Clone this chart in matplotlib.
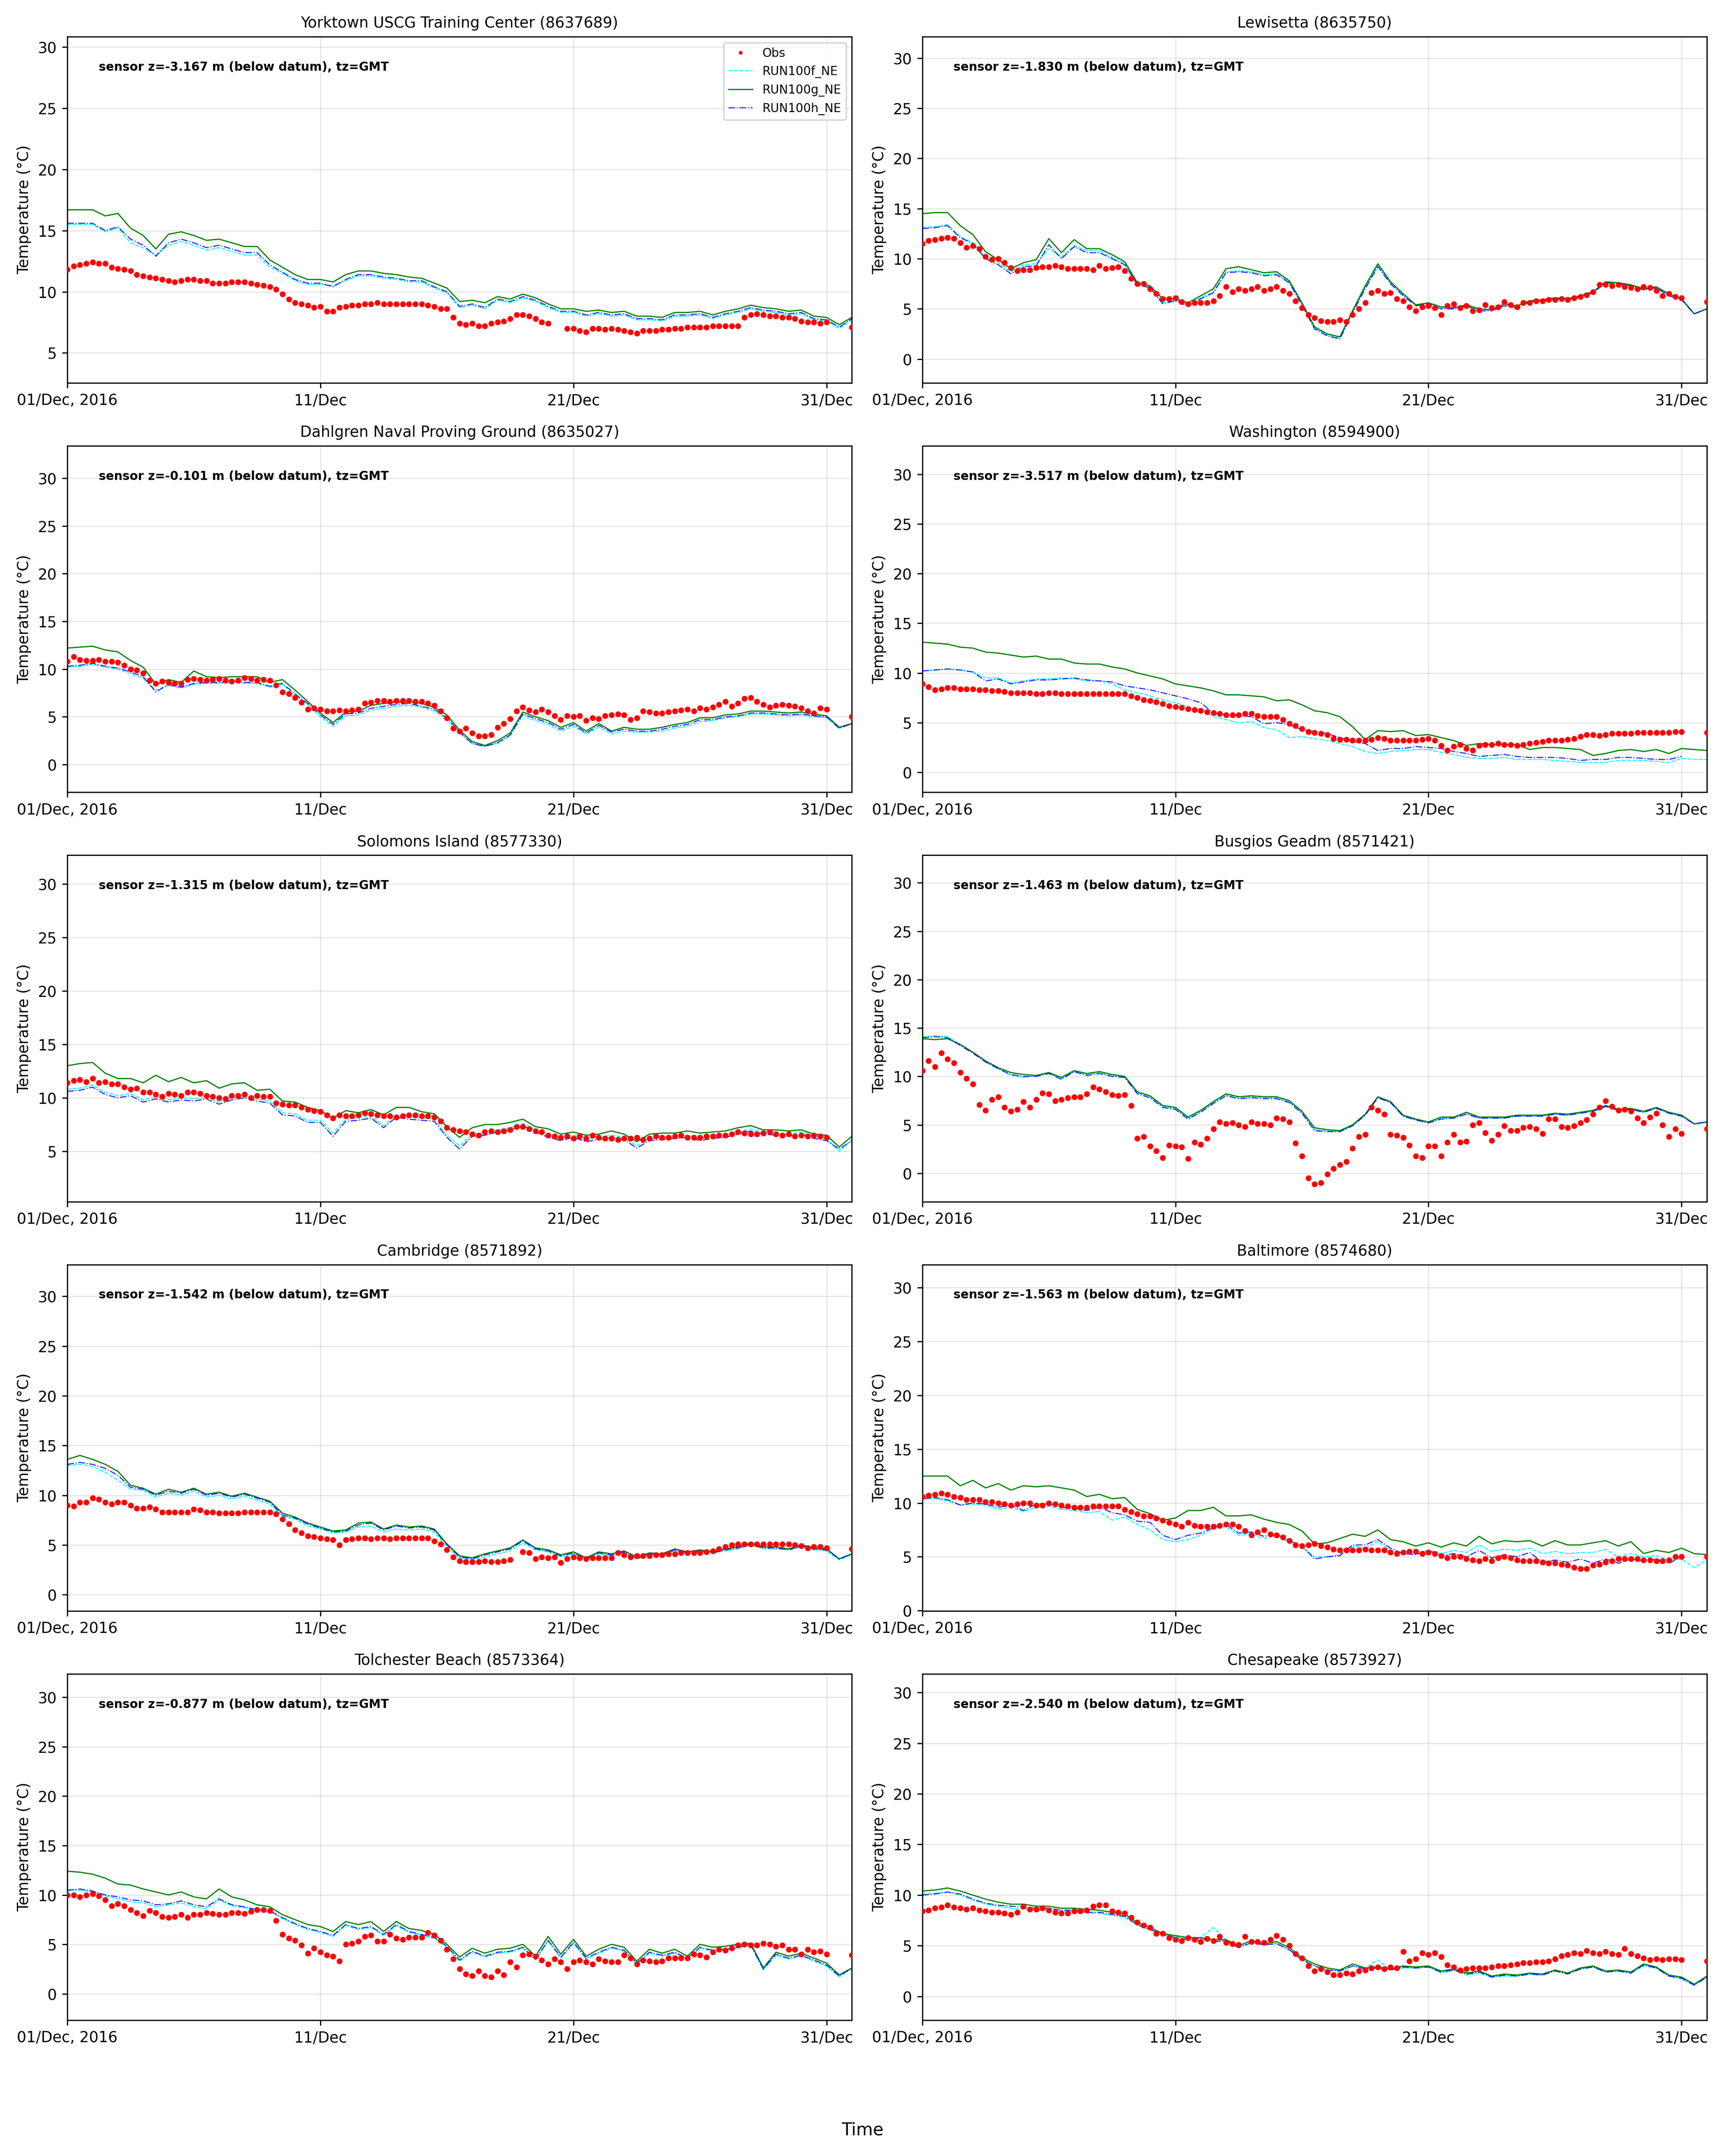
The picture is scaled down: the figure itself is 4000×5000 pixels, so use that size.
import numpy as np
import pandas as pd
import matplotlib
import matplotlib.pyplot as plt
from matplotlib.ticker import MultipleLocator

matplotlib.use('Agg')

nan = np.nan

# station info
stations = ['Yorktown USCG Training Center (8637689)', 'Lewisetta (8635750)',
            'Dahlgren Naval Proving Ground (8635027)', 'Washington (8594900)',
            'Solomons Island (8577330)', 'Busgios Geadm (8571421)',
            'Cambridge (8571892)', 'Baltimore (8574680)',
            'Tolchester Beach (8573364)', 'Chesapeake (8573927)']
sensor_z = [-3.167, -1.830, -0.101, -3.517, -1.315, -1.463, -1.542, -1.563, -0.877, -2.540]
y_limits = [(2.54, 30.86), (-2.39, 32.15), (-2.9, 33.37), (-2.0, 32.84), (0.3, 32.67),
            (-2.92, 32.84), (-1.63, 33.19), (-0.02, 32.14), (-2.68, 32.38), (-2.35, 31.84)]
run_names = ['RUN100f_NE', 'RUN100g_NE', 'RUN100h_NE']

# time axes: obs every 6 h, model every 12 h
t_obs = pd.date_range('2016-12-01 00:00', '2017-01-01 00:00', freq='6h')
t_mod = pd.date_range('2016-12-01 00:00', '2017-01-01 00:00', freq='12h')
tick_dates = pd.to_datetime(['2016-12-01', '2016-12-11', '2016-12-21', '2016-12-31'])
tick_labels = ['01/Dec, 2016', '11/Dec', '21/Dec', '31/Dec']

# ---------------- Yorktown ----------------
obs_yk = [11.8, 12.1, 12.2, 12.3, 12.4, 12.3, 12.3, 12.0,
          11.9, 11.8, 11.7, 11.4, 11.3, 11.2, 11.1, 11.0,
          10.9, 10.8, 10.9, 11.0, 11.0, 10.9, 10.9, 10.7,
          10.7, 10.7, 10.8, 10.8, 10.8, 10.7, 10.6, 10.5,
          10.4, 10.2, 9.8, 9.4, 9.1, 9.0, 8.9, 8.7,
          8.8, 8.4, 8.4, 8.7, 8.8, 8.9, 8.9, 9.0,
          9.0, 9.1, 9.0, 9.0, 9.0, 9.0, 9.0, 9.0,
          9.0, 8.9, 8.8, 8.6, 8.6, 7.9, 7.4, 7.3,
          7.4, 7.2, 7.2, 7.4, 7.5, 7.6, 7.8, 8.1,
          8.1, 8.0, 7.8, 7.5, 7.4, nan, nan, 7.0,
          7.0, 6.8, 6.7, 7.0, 7.0, 6.9, 7.0, 6.9,
          6.8, 6.7, 6.6, 6.8, 6.8, 6.8, 6.9, 6.9,
          7.0, 7.0, 7.1, 7.1, 7.1, 7.1, 7.2, 7.2,
          7.2, 7.2, 7.2, 7.9, 8.1, 8.2, 8.1, 8.0,
          8.0, 7.9, 7.9, 7.8, 7.6, 7.5, 7.5, 7.4,
          7.5, nan, nan, nan, 7.1]
f_yk = [15.5, 15.5, 15.5, 14.9, 15.2, 14.0, 13.6, 13.0, 13.8, 14.1,
        13.8, 13.4, 13.6, 13.3, 13.0, 13.0, 12.0, 11.5, 10.9, 10.6,
        10.6, 10.5, 10.9, 11.3, 11.3, 11.1, 11.0, 10.8, 10.8, 10.3,
        9.9, 8.7, 8.9, 8.6, 9.3, 9.1, 9.5, 9.2, 8.7, 8.3,
        8.3, 8.0, 8.2, 8.0, 8.1, 7.7, 7.7, 7.6, 8.0, 8.0,
        8.1, 7.8, 8.1, 8.3, 8.6, 8.4, 8.3, 8.1, 8.2, 7.7,
        7.6, 7.0, 7.7]
g_yk = [16.7, 16.7, 16.7, 16.2, 16.4, 15.2, 14.6, 13.5, 14.7, 14.9,
        14.6, 14.2, 14.3, 14.0, 13.7, 13.7, 12.6, 12.0, 11.4, 11.0,
        11.0, 10.8, 11.4, 11.7, 11.7, 11.5, 11.4, 11.2, 11.1, 10.7,
        10.3, 9.2, 9.3, 9.1, 9.6, 9.4, 9.8, 9.5, 9.0, 8.6,
        8.6, 8.4, 8.5, 8.3, 8.4, 8.0, 8.0, 7.9, 8.3, 8.3,
        8.4, 8.1, 8.4, 8.6, 8.9, 8.7, 8.6, 8.4, 8.5, 8.0,
        7.9, 7.3, 7.9]
h_yk = [15.6, 15.6, 15.6, 15.0, 15.3, 14.3, 13.8, 12.9, 14.0, 14.3,
        14.0, 13.6, 13.8, 13.5, 13.2, 13.2, 12.2, 11.6, 11.0, 10.7,
        10.7, 10.4, 11.0, 11.4, 11.4, 11.2, 11.1, 10.9, 10.9, 10.4,
        10.0, 8.8, 9.0, 8.7, 9.4, 9.2, 9.6, 9.3, 8.8, 8.4,
        8.4, 8.1, 8.3, 8.1, 8.2, 7.8, 7.8, 7.7, 8.1, 8.1,
        8.2, 7.9, 8.2, 8.4, 8.7, 8.5, 8.4, 8.2, 8.3, 7.8,
        7.7, 7.1, 7.8]

# ---------------- Lewisetta ----------------
obs_lw = [11.5, 11.8, 11.9, 12.0, 12.1, 12.0, 11.6, 11.1,
          11.3, 11.0, 10.2, 9.9, 10.0, 9.6, 9.1, 8.8,
          8.9, 8.9, 9.1, 9.2, 9.2, 9.3, 9.2, 9.0,
          9.0, 9.0, 9.0, 8.9, 9.3, 9.0, 9.1, 9.2,
          8.8, 8.0, 7.5, 7.5, 7.0, 6.5, 6.0, 6.0,
          6.1, 5.7, 5.5, 5.6, 5.6, 5.6, 5.8, 6.3,
          7.2, 6.7, 7.0, 6.8, 7.0, 7.2, 6.8, 7.0,
          7.2, 6.8, 6.5, 5.8, 5.1, 4.4, 4.1, 3.8,
          3.7, 3.7, 3.9, 3.7, 4.4, 5.0, 5.6, 6.6,
          6.8, 6.5, 6.6, 6.0, 5.8, 5.2, 4.8, 5.2,
          5.3, 5.1, 4.4, 5.3, 5.5, 5.1, 5.3, 4.8,
          4.9, 5.4, 5.1, 5.2, 5.7, 5.4, 5.2, 5.6,
          5.6, 5.8, 5.8, 5.9, 5.9, 6.0, 5.9, 6.1,
          6.2, 6.4, 6.7, 7.4, 7.4, 7.3, 7.4, 7.2,
          7.1, 7.0, 7.2, 7.1, 6.8, 6.3, 6.5, 6.2,
          6.1, nan, nan, nan, 5.7]
f_lw = [13.1, 13.2, 13.4, 12.2, 11.6, 10.2, 9.6, 8.7, 9.4, 9.5,
        11.0, 10.2, 11.3, 10.8, 10.8, 10.1, 9.5, 7.5, 7.2, 5.6,
        5.9, 5.4, 6.1, 6.7, 8.7, 8.8, 8.7, 8.4, 8.5, 7.7,
        5.5, 3.1, 2.4, 2.1, 4.7, 7.1, 9.3, 7.6, 6.4, 5.4,
        5.6, 5.1, 5.1, 5.4, 4.9, 4.9, 5.4, 5.2, 5.8, 5.9,
        6.1, 6.0, 6.3, 6.7, 7.6, 7.5, 7.3, 6.9, 7.1, 6.4,
        5.9, 4.5, 5.0]
g_lw = [14.5, 14.6, 14.6, 13.3, 12.4, 10.7, 9.9, 9.0, 9.6, 9.9,
        12.0, 10.6, 11.9, 11.0, 11.0, 10.4, 9.7, 7.6, 7.3, 6.0,
        6.0, 5.6, 6.3, 7.0, 9.0, 9.2, 8.9, 8.6, 8.7, 7.8,
        5.6, 3.2, 2.5, 2.2, 4.8, 7.3, 9.5, 7.7, 6.5, 5.4,
        5.6, 5.2, 5.1, 5.4, 5.0, 4.9, 5.5, 5.3, 5.8, 5.9,
        6.1, 6.0, 6.3, 6.7, 7.7, 7.6, 7.4, 7.0, 7.2, 6.5,
        6.0, 4.5, 5.0]
h_lw = [13.0, 13.1, 13.3, 12.1, 11.5, 10.0, 9.4, 8.5, 9.2, 9.3,
        11.4, 10.0, 11.2, 10.6, 10.6, 10.0, 9.4, 7.4, 7.1, 5.5,
        5.8, 5.3, 6.0, 6.6, 8.6, 8.7, 8.6, 8.3, 8.4, 7.6,
        5.4, 3.0, 2.3, 2.0, 4.6, 7.0, 9.2, 7.5, 6.3, 5.3,
        5.5, 5.0, 5.0, 5.3, 4.8, 4.8, 5.3, 5.1, 5.7, 5.8,
        6.0, 5.9, 6.2, 6.6, 7.6, 7.5, 7.3, 6.9, 7.1, 6.3,
        5.9, 4.5, 5.0]

# ---------------- Dahlgren ----------------
obs_dg = [10.8, 11.3, 11.0, 10.9, 10.9, 11.0, 10.8, 10.8,
          10.7, 10.4, 10.0, 9.9, 9.6, 8.8, 8.5, 8.7,
          8.6, 8.5, 8.5, 8.9, 9.0, 8.9, 8.8, 8.9,
          9.0, 8.8, 8.7, 8.8, 9.1, 9.0, 8.8, 8.9,
          8.8, 8.3, 7.6, 7.4, 7.0, 6.5, 5.8, 5.9,
          5.8, 5.6, 5.6, 5.7, 5.6, 5.7, 5.8, 6.4,
          6.5, 6.7, 6.7, 6.6, 6.7, 6.7, 6.7, 6.6,
          6.6, 6.4, 6.2, 5.6, 4.9, 3.8, 3.5, 3.8,
          3.3, 3.0, 3.0, 3.1, 3.9, 4.3, 4.8, 5.6,
          6.0, 5.7, 5.5, 5.8, 5.5, 5.1, 4.7, 5.1,
          5.0, 5.1, 4.6, 4.9, 4.8, 5.1, 5.2, 5.3,
          5.2, 4.7, 4.9, 5.6, 5.5, 5.4, 5.4, 5.5,
          5.6, 5.7, 5.8, 5.6, 5.9, 5.8, 6.0, 6.3,
          6.6, 6.1, 6.4, 6.9, 7.0, 6.6, 6.3, 6.0,
          6.2, 6.3, 6.2, 6.1, 5.9, 5.6, 5.4, 5.9,
          5.8, nan, nan, nan, 5.0]
f_dg = [10.2, 10.3, 10.5, 10.2, 10.0, 9.5, 9.0, 7.8, 8.3, 8.0,
        8.4, 8.5, 8.5, 8.6, 8.5, 8.5, 8.1, 8.4, 7.2, 6.3,
        5.0, 4.0, 5.1, 5.2, 5.7, 5.9, 6.1, 6.2, 6.0, 5.6,
        4.8, 3.3, 2.2, 1.9, 2.2, 3.0, 5.2, 4.6, 4.2, 3.5,
        4.0, 3.2, 3.9, 3.2, 3.5, 3.4, 3.4, 3.5, 3.8, 4.0,
        4.5, 4.6, 4.9, 5.0, 5.3, 5.3, 5.2, 5.1, 5.2, 5.0,
        4.9, 3.8, 4.3]
g_dg = [12.2, 12.3, 12.4, 12.0, 11.8, 10.9, 10.2, 8.4, 8.9, 8.6,
        9.8, 9.2, 9.1, 9.2, 9.2, 9.2, 8.6, 8.9, 7.8, 6.6,
        5.4, 4.4, 5.5, 5.6, 6.2, 6.4, 6.5, 6.6, 6.4, 6.0,
        5.2, 3.6, 2.4, 2.0, 2.5, 3.3, 5.5, 5.0, 4.6, 3.9,
        4.4, 3.5, 4.3, 3.5, 3.9, 3.7, 3.7, 3.9, 4.2, 4.4,
        4.9, 4.9, 5.2, 5.3, 5.6, 5.6, 5.5, 5.4, 5.5, 5.3,
        5.1, 3.9, 4.3]
h_dg = [10.3, 10.4, 10.6, 10.3, 10.1, 9.7, 9.2, 7.6, 8.4, 8.1,
        8.5, 8.6, 8.6, 8.7, 8.6, 8.6, 8.2, 8.5, 7.4, 6.4,
        5.2, 4.2, 5.3, 5.4, 5.9, 6.1, 6.3, 6.4, 6.1, 5.8,
        4.9, 3.4, 2.2, 1.9, 2.3, 3.1, 5.3, 4.8, 4.4, 3.7,
        4.2, 3.3, 4.1, 3.4, 3.7, 3.5, 3.5, 3.7, 4.0, 4.2,
        4.7, 4.7, 5.0, 5.1, 5.4, 5.4, 5.3, 5.2, 5.3, 5.1,
        5.0, 3.8, 4.3]

# ---------------- Washington ----------------
obs_wa = [8.9, 8.6, 8.3, 8.4, 8.5, 8.5, 8.4, 8.4,
          8.4, 8.3, 8.3, 8.2, 8.2, 8.1, 8.0, 8.0,
          8.0, 8.0, 7.9, 7.9, 8.0, 8.0, 7.9, 7.9,
          7.9, 7.9, 7.9, 7.9, 7.9, 7.9, 7.9, 7.9,
          7.9, 7.7, 7.5, 7.3, 7.2, 7.1, 6.9, 6.7,
          6.6, 6.5, 6.4, 6.3, 6.2, 6.1, 6.0, 5.9,
          5.8, 5.8, 5.8, 5.9, 5.9, 5.7, 5.6, 5.6,
          5.6, 5.3, 4.9, 4.7, 4.4, 4.1, 4.0, 3.9,
          3.8, 3.4, 3.3, 3.3, 3.2, 3.2, 3.2, 3.3,
          3.5, 3.4, 3.2, 3.2, 3.2, 3.2, 3.2, 3.3,
          3.4, 3.2, 2.7, 2.2, 2.6, 2.8, 2.4, 2.2,
          2.7, 2.8, 2.8, 2.9, 2.8, 2.8, 2.7, 2.8,
          2.9, 3.0, 3.1, 3.2, 3.2, 3.2, 3.3, 3.4,
          3.6, 3.8, 3.8, 3.7, 3.8, 3.9, 3.9, 3.9,
          3.9, 4.0, 4.0, 4.0, 4.0, 4.0, 4.0, 4.1,
          4.1, nan, nan, nan, 4.0]
f_wa = [10.2, 10.3, 10.4, 10.3, 10.1, 9.5, 9.5, 9.0, 9.2, 9.4,
        9.4, 9.5, 9.4, 9.2, 9.2, 8.9, 8.3, 8.0, 7.7, 7.3,
        7.0, 6.6, 6.3, 5.6, 5.3, 5.0, 5.1, 4.5, 4.3, 3.5,
        3.6, 3.4, 3.2, 2.9, 2.6, 2.1, 1.9, 2.1, 2.2, 2.3,
        2.3, 2.0, 1.8, 1.5, 1.4, 1.4, 1.5, 1.3, 1.3, 1.3,
        1.2, 1.1, 1.0, 1.0, 1.0, 1.2, 1.2, 1.2, 1.1, 1.0,
        1.4, 1.3, 1.3]
g_wa = [13.1, 13.0, 12.9, 12.6, 12.5, 12.1, 12.0, 11.8, 11.6, 11.7,
        11.4, 11.4, 11.0, 10.9, 10.9, 10.6, 10.4, 10.0, 9.7, 9.4,
        8.9, 8.7, 8.5, 8.2, 7.8, 7.8, 7.7, 7.6, 7.2, 7.3,
        6.8, 6.2, 6.0, 5.6, 4.6, 3.3, 4.2, 4.1, 4.2, 3.7,
        3.8, 3.5, 3.2, 2.7, 2.9, 2.8, 2.8, 2.8, 2.3, 2.5,
        2.5, 2.4, 2.3, 1.7, 1.9, 2.2, 2.3, 2.1, 2.3, 1.9,
        2.4, 2.3, 2.2]
h_wa = [10.2, 10.3, 10.4, 10.3, 10.1, 9.2, 9.4, 8.9, 9.1, 9.3,
        9.3, 9.4, 9.5, 9.3, 9.2, 9.1, 8.7, 8.5, 8.3, 8.0,
        7.7, 7.4, 7.0, 6.0, 5.8, 5.7, 5.6, 4.9, 5.0, 4.8,
        4.3, 4.1, 3.9, 3.5, 3.1, 2.9, 2.2, 2.4, 2.4, 2.6,
        2.5, 2.4, 2.1, 1.9, 1.6, 1.7, 1.8, 1.6, 1.5, 1.5,
        1.5, 1.4, 1.2, 1.3, 1.3, 1.5, 1.5, 1.4, 1.3, 1.3,
        1.6, nan, nan]

# ---------------- Solomons ----------------
obs_so = [11.4, 11.6, 11.7, 11.5, 11.8, 11.4, 11.5, 11.3,
          11.3, 11.0, 10.8, 10.9, 10.5, 10.5, 10.3, 10.1,
          10.4, 10.3, 10.2, 10.5, 10.5, 10.4, 10.2, 10.1,
          10.0, 9.9, 10.2, 10.2, 10.3, 10.0, 10.2, 10.1,
          10.1, 9.5, 9.4, 9.3, 9.3, 9.1, 8.9, 8.8,
          8.7, 8.4, 8.1, 8.4, 8.3, 8.3, 8.4, 8.6,
          8.5, 8.4, 8.3, 8.3, 8.2, 8.3, 8.4, 8.4,
          8.3, 8.3, 8.2, 7.8, 7.2, 7.0, 6.9, 6.8,
          6.6, 6.5, 6.8, 6.9, 6.8, 6.9, 7.0, 7.3,
          7.3, 7.1, 6.9, 6.8, 6.5, 6.4, 6.3, 6.4,
          6.2, 6.4, 6.2, 6.5, 6.3, 6.2, 6.2, 6.1,
          6.2, 6.2, 6.3, 6.1, 6.2, 6.4, 6.3, 6.3,
          6.4, 6.5, 6.3, 6.3, 6.3, 6.4, 6.4, 6.5,
          6.5, 6.6, 6.8, 6.7, 6.6, 6.6, 6.7, 6.8,
          6.6, 6.5, 6.6, 6.4, 6.5, 6.4, 6.5, 6.4,
          6.3, nan, nan, nan, nan]
f_so = [10.8, 10.9, 11.2, 10.5, 10.2, 10.4, 9.8, 10.1, 9.8, 10.0,
        9.9, 10.1, 9.6, 10.0, 10.2, 9.9, 9.7, 8.6, 8.5, 7.9,
        7.9, 6.7, 8.0, 8.1, 8.3, 7.4, 8.4, 8.2, 8.1, 8.0,
        6.5, 5.5, 6.6, 6.7, 7.0, 7.2, 7.6, 7.0, 6.5, 6.2,
        6.5, 6.1, 6.3, 6.5, 6.3, 5.5, 6.2, 6.3, 6.4, 6.5,
        6.2, 6.4, 6.5, 6.8, 7.1, 6.8, 6.7, 6.6, 6.8, 6.4,
        6.2, 5.0, 6.1]
g_so = [13.0, 13.2, 13.3, 12.3, 11.8, 11.8, 11.4, 12.1, 11.5, 11.9,
        11.4, 11.6, 10.9, 11.3, 11.4, 10.7, 10.8, 9.7, 9.6, 9.1,
        8.8, 8.1, 8.8, 8.6, 8.9, 8.4, 9.1, 9.1, 8.7, 8.5,
        7.3, 6.3, 7.2, 7.5, 7.5, 7.7, 8.0, 7.3, 7.1, 6.6,
        6.8, 6.5, 6.6, 6.9, 6.6, 5.9, 6.6, 6.7, 6.7, 6.9,
        6.7, 6.8, 6.9, 7.2, 7.4, 7.0, 7.0, 6.9, 7.0, 6.6,
        6.5, 5.4, 6.4]
h_so = [10.6, 10.7, 11.0, 10.3, 10.0, 10.2, 9.6, 9.9, 9.6, 9.8,
        9.7, 9.9, 9.4, 9.8, 10.0, 9.7, 9.5, 8.4, 8.3, 7.7,
        7.7, 6.4, 7.8, 7.9, 8.1, 7.2, 8.2, 8.0, 7.9, 7.8,
        6.3, 5.2, 6.4, 6.5, 6.8, 7.0, 7.4, 6.8, 6.3, 6.0,
        6.3, 5.9, 6.1, 6.3, 6.1, 5.3, 6.0, 6.1, 6.2, 6.3,
        6.0, 6.2, 6.3, 6.6, 6.9, 6.6, 6.5, 6.4, 6.6, 6.2,
        6.0, 5.2, 6.0]

# ---------------- Busgios Geadm ----------------
obs_bg = [10.6, 11.6, 11.0, 12.4, 11.8, 11.4, 10.4, 9.8,
          9.2, 7.1, 6.5, 7.6, 7.9, 6.8, 6.4, 6.6,
          7.4, 6.8, 7.6, 8.3, 8.2, 7.5, 7.6, 7.8,
          7.9, 7.9, 8.2, 8.9, 8.7, 8.4, 8.1, 8.0,
          8.1, 7.0, 3.6, 3.8, 2.8, 2.3, 1.6, 2.9,
          2.8, 2.7, 1.5, 3.2, 3.0, 3.6, 4.6, 5.3,
          5.1, 5.2, 5.0, 4.8, 5.3, 5.1, 5.1, 5.0,
          5.7, 5.6, 5.3, 3.1, 1.8, -0.5, -1.1, -1.0,
          -0.1, 0.5, 0.9, 1.2, 2.6, 3.8, 4.0, 6.8,
          6.5, 6.1, 4.0, 3.9, 3.7, 2.9, 1.8, 1.6,
          2.8, 2.8, 1.8, 3.2, 4.0, 3.2, 3.3, 5.0,
          5.2, 4.2, 3.4, 4.0, 4.9, 4.4, 4.4, 4.7,
          4.8, 4.6, 4.1, 5.6, 5.6, 4.8, 4.7, 4.9,
          5.2, 5.5, 6.1, 6.8, 7.5, 6.9, 6.5, 6.6,
          6.4, 5.7, 5.2, 5.8, 6.2, 5.0, 3.8, 4.6,
          4.1, nan, nan, nan, 4.6]
f_bg = [14.1, 14.2, 14.1, 13.3, 12.5, 11.5, 10.8, 10.1, 9.9, 10.1,
        10.3, 9.8, 10.5, 10.2, 10.4, 10.1, 9.9, 8.3, 7.9, 6.9,
        6.7, 5.7, 6.4, 7.3, 8.1, 7.8, 7.9, 7.8, 7.8, 7.4,
        6.3, 4.5, 4.4, 4.3, 4.9, 6.0, 7.9, 7.3, 5.9, 5.5,
        5.2, 5.7, 5.7, 6.2, 5.7, 5.7, 5.7, 5.9, 5.9, 5.9,
        6.1, 6.0, 6.2, 6.4, 6.9, 6.5, 6.6, 6.3, 6.7, 6.2,
        5.9, 5.1, 5.3]
g_bg = [13.9, 13.8, 13.9, 13.3, 12.5, 11.6, 10.9, 10.4, 10.2, 10.1,
        10.4, 9.9, 10.6, 10.3, 10.5, 10.2, 10.0, 8.4, 8.0, 7.0,
        6.8, 5.8, 6.5, 7.4, 8.2, 7.9, 8.0, 7.9, 7.9, 7.5,
        6.4, 4.7, 4.5, 4.4, 5.0, 6.1, 7.9, 7.4, 6.0, 5.6,
        5.3, 5.8, 5.8, 6.3, 5.8, 5.8, 5.8, 6.0, 6.0, 6.0,
        6.2, 6.1, 6.3, 6.5, 7.0, 6.6, 6.7, 6.4, 6.8, 6.3,
        6.0, 5.1, 5.3]
h_bg = [14.0, 14.1, 14.0, 13.2, 12.4, 11.5, 10.8, 10.2, 10.0, 10.0,
        10.3, 9.7, 10.5, 10.1, 10.3, 10.0, 9.9, 8.2, 7.8, 6.8,
        6.6, 5.6, 6.3, 7.2, 8.0, 7.7, 7.8, 7.7, 7.7, 7.3,
        6.2, 4.4, 4.3, 4.3, 4.9, 6.0, 7.8, 7.3, 5.9, 5.5,
        5.2, 5.6, 5.7, 6.1, 5.7, 5.7, 5.7, 5.9, 5.9, 5.9,
        6.1, 6.0, 6.2, 6.4, 6.9, 6.5, 6.6, 6.3, 6.7, 6.2,
        5.9, 5.1, 5.3]

# ---------------- Cambridge ----------------
obs_cb = [9.0, 8.9, 9.3, 9.3, 9.7, 9.6, 9.3, 9.1,
          9.3, 9.3, 9.0, 8.7, 8.7, 8.8, 8.6, 8.3,
          8.3, 8.3, 8.3, 8.3, 8.6, 8.5, 8.3, 8.3,
          8.2, 8.2, 8.2, 8.2, 8.3, 8.3, 8.3, 8.3,
          8.3, 8.1, 7.6, 7.1, 6.5, 6.2, 5.9, 5.8,
          5.7, 5.6, 5.5, 5.0, 5.5, 5.6, 5.7, 5.7,
          5.6, 5.7, 5.7, 5.6, 5.7, 5.7, 5.7, 5.7,
          5.7, 5.7, 5.4, 5.1, 4.5, 3.8, 3.4, 3.3,
          3.3, 3.3, 3.4, 3.3, 3.3, 3.4, 3.5, nan,
          4.3, 4.2, 3.6, 3.8, 3.7, 3.8, 3.2, 3.6,
          3.8, 3.7, 3.6, 3.7, 3.7, 3.7, 3.7, 4.2,
          4.0, 3.8, 3.9, 3.9, 3.9, 4.0, 4.0, 4.1,
          4.1, 4.2, 4.2, 4.2, 4.2, 4.3, 4.4, 4.6,
          4.8, 5.0, 5.1, 5.1, 5.1, 5.1, 5.1, 5.1,
          5.1, 5.1, 5.1, 5.0, 4.9, 4.7, 4.8, 4.8,
          4.7, nan, nan, nan, 4.6]
f_cb = [13.0, 13.1, 12.9, 12.3, 11.5, 10.6, 10.5, 9.8, 10.2, 10.0,
        10.4, 9.8, 10.0, 9.6, 9.9, 9.5, 9.1, 7.9, 7.6, 6.9,
        6.6, 6.2, 6.3, 6.8, 6.9, 6.3, 6.6, 6.5, 6.6, 6.3,
        4.8, 3.7, 3.5, 3.8, 4.1, 4.4, 5.2, 4.5, 4.3, 3.8,
        4.1, 3.6, 4.1, 3.9, 4.2, 3.6, 4.0, 3.9, 4.4, 4.1,
        4.3, 4.2, 4.4, 4.6, 5.0, 4.6, 4.6, 4.5, 4.8, 4.5,
        4.4, 3.5, 4.0]
g_cb = [13.6, 14.0, 13.6, 13.1, 12.4, 11.0, 10.7, 10.1, 10.6, 10.3,
        10.7, 10.1, 10.3, 9.9, 10.2, 9.8, 9.4, 8.2, 7.8, 7.2,
        6.8, 6.4, 6.5, 7.2, 7.3, 6.6, 7.0, 6.8, 6.9, 6.6,
        5.1, 3.9, 3.7, 4.1, 4.4, 4.7, 5.5, 4.7, 4.5, 4.0,
        4.3, 3.7, 4.3, 4.1, 4.4, 3.8, 4.2, 4.1, 4.6, 4.3,
        4.5, 4.3, 4.6, 4.8, 5.2, 4.8, 4.8, 4.6, 5.0, 4.7,
        4.6, 3.6, 4.1]
h_cb = [13.1, 13.3, 13.1, 12.7, 12.0, 10.8, 10.6, 10.0, 10.4, 10.2,
        10.6, 10.0, 10.2, 9.8, 10.1, 9.7, 9.3, 8.0, 7.7, 7.1,
        6.7, 6.3, 6.4, 7.0, 7.2, 6.5, 6.9, 6.7, 6.8, 6.5,
        5.0, 3.8, 3.6, 4.0, 4.3, 4.6, 5.4, 4.6, 4.4, 3.9,
        4.2, 3.6, 4.2, 4.0, 4.3, 3.6, 4.1, 4.0, 4.5, 4.2,
        4.4, 4.2, 4.5, 4.7, 5.1, 4.7, 4.7, 4.5, 4.9, 4.6,
        4.5, 3.6, 4.1]

# ---------------- Baltimore ----------------
obs_bm = [10.6, 10.7, 10.8, 10.9, 10.8, 10.6, 10.5, 10.3,
          10.3, 10.3, 10.1, 10.1, 10.0, 9.9, 9.8, 9.9,
          10.0, 10.0, 9.8, 9.8, 10.0, 9.9, 9.8, 9.7,
          9.6, 9.6, 9.6, 9.7, 9.7, 9.7, 9.7, 9.7,
          9.4, 9.2, 9.0, 8.8, 8.8, 8.6, 8.4, 8.2,
          8.0, 7.8, 8.2, 7.9, 7.8, 7.8, 7.8, 7.9,
          8.0, 8.0, 7.8, 7.4, 7.0, 7.3, 7.5, 7.1,
          7.0, 6.8, 6.5, 6.1, 6.0, 6.1, 6.2, 6.0,
          5.9, 5.7, 5.6, 5.6, 5.6, 5.6, 5.7, 5.6,
          5.6, 5.6, 5.4, 5.3, 5.4, 5.5, 5.5, 5.3,
          5.4, 5.3, 5.1, 4.9, 5.0, 5.0, 4.8, 4.7,
          4.6, 4.8, 4.6, 4.9, 5.0, 4.9, 4.7, 4.6,
          4.6, 4.6, 4.5, 4.4, 4.4, 4.3, 4.2, 4.0,
          3.9, 3.9, 4.2, 4.3, 4.5, 4.6, 4.8, 4.8,
          4.8, 4.8, 4.7, 4.7, 4.6, 4.6, 4.7, 5.0,
          5.0, nan, nan, nan, 5.0]
f_bm = [10.4, 10.4, 10.2, 9.8, 9.9, 9.8, 9.4, 9.6, 9.2, 9.6,
        9.7, 9.4, 9.3, 9.1, 9.2, 8.4, 8.7, 8.0, 7.5, 6.6,
        6.4, 6.6, 7.0, 7.6, 7.8, 7.0, 7.1, 6.7, 7.0, 6.3,
        5.9, 5.0, 5.0, 5.2, 6.0, 5.8, 6.4, 5.6, 5.3, 5.4,
        5.6, 5.3, 5.6, 5.4, 6.1, 5.5, 5.7, 5.6, 5.8, 5.3,
        5.5, 5.3, 5.4, 5.4, 5.7, 5.0, 5.3, 5.0, 5.1, 4.7,
        4.8, 4.0, 4.7]
g_bm = [12.5, 12.5, 12.5, 11.6, 12.1, 11.4, 11.8, 11.2, 11.6, 11.5,
        11.6, 11.4, 11.2, 10.6, 10.8, 10.4, 10.5, 9.4, 9.0, 8.4,
        8.6, 9.3, 9.3, 9.6, 8.8, 8.8, 8.9, 8.5, 8.2, 8.0,
        7.4, 6.2, 6.3, 6.7, 7.1, 6.9, 7.5, 6.6, 6.4, 6.0,
        6.3, 5.9, 6.3, 6.0, 6.9, 6.2, 6.5, 6.4, 6.5, 6.0,
        6.5, 6.1, 6.1, 6.3, 6.5, 6.0, 6.4, 5.3, 5.6, 5.4,
        5.8, 5.3, 5.2]
h_bm = [10.4, 10.5, 10.3, 9.8, 10.0, 9.9, 9.6, 9.8, 9.3, 9.9,
        9.9, 9.6, 9.5, 9.3, 9.6, 9.1, 8.9, 8.3, 8.2, 7.0,
        6.6, 7.0, 7.2, 7.7, 8.0, 7.2, 7.3, 6.9, 7.1, 6.5,
        6.0, 4.8, 5.0, 5.1, 6.1, 6.1, 6.6, 5.8, 5.3, 5.2,
        5.6, 5.1, 5.3, 5.0, 5.6, 4.9, 5.2, 5.0, 5.4, 4.5,
        4.7, 4.5, 4.8, 4.4, 4.8, 4.4, 4.8, 4.6, 4.8, 4.4,
        5.0, nan, nan]

# ---------------- Tolchester Beach ----------------
obs_tc = [10.0, 10.0, 9.8, 10.0, 10.1, 9.9, 9.5, 8.9,
          9.1, 8.9, 8.5, 8.2, 7.9, 8.4, 8.2, 7.8,
          7.7, 7.8, 8.0, 7.7, 8.0, 8.0, 8.2, 8.1,
          8.0, 8.0, 8.2, 8.2, 8.1, 8.3, 8.5, 8.5,
          8.4, 7.4, 6.0, 5.6, 5.4, 4.9, 4.1, 4.6,
          4.2, 3.9, 3.8, 3.3, 5.0, 5.1, 5.3, 5.8,
          5.9, 5.3, 5.3, 6.0, 5.6, 5.5, 5.7, 5.7,
          5.7, 6.2, 5.9, 5.4, 4.5, 3.5, 2.5, 2.0,
          1.8, 2.3, 1.8, 1.7, 2.3, 1.9, 3.2, 2.7,
          3.9, 4.0, 3.8, 3.4, 3.0, 3.5, 3.2, 2.5,
          3.2, 3.4, 3.2, 3.0, 3.5, 3.3, 3.2, 3.2,
          3.9, 3.6, 3.0, 3.4, 3.3, 3.2, 3.3, 3.6,
          3.6, 3.6, 3.6, 4.0, 3.9, 3.7, 4.2, 4.5,
          4.4, 4.6, 4.9, 5.0, 4.9, 4.9, 5.1, 5.0,
          4.8, 4.9, 4.5, 4.5, 4.0, 4.5, 4.2, 4.3,
          4.0, nan, nan, nan, 3.9]
f_tc = [10.4, 10.5, 10.3, 9.9, 9.6, 9.3, 9.2, 8.8, 9.0, 9.2,
        8.8, 8.6, 9.5, 8.9, 8.7, 8.4, 8.3, 7.6, 7.0, 6.5,
        6.2, 5.8, 6.9, 6.5, 6.7, 5.9, 6.9, 6.2, 5.9, 5.6,
        4.7, 3.3, 4.2, 3.7, 4.1, 4.2, 4.6, 3.4, 5.3, 3.6,
        5.1, 3.5, 4.1, 4.6, 4.3, 3.0, 4.1, 3.8, 4.1, 3.5,
        4.6, 4.3, 4.4, 4.6, 4.9, 2.4, 3.9, 3.5, 3.8, 3.3,
        2.8, 1.7, 2.6]
g_tc = [12.4, 12.3, 12.1, 11.7, 11.1, 11.0, 10.6, 10.3, 10.0, 10.3,
        9.8, 9.6, 10.6, 9.8, 9.5, 9.0, 8.8, 8.0, 7.5, 7.0,
        6.8, 6.3, 7.3, 7.0, 7.3, 6.3, 7.3, 6.6, 6.4, 6.0,
        5.0, 3.7, 4.6, 4.1, 4.5, 4.6, 5.0, 3.8, 5.8, 4.0,
        5.5, 3.8, 4.5, 5.0, 4.7, 3.3, 4.5, 4.1, 4.5, 3.8,
        5.0, 4.7, 4.8, 5.0, 5.1, 2.6, 4.2, 3.8, 4.1, 3.6,
        3.1, 1.9, 2.6]
h_tc = [10.5, 10.6, 10.4, 10.0, 9.8, 9.5, 9.4, 9.0, 9.1, 9.4,
        9.0, 8.8, 9.6, 9.0, 8.8, 8.5, 8.4, 7.7, 7.1, 6.6,
        6.3, 5.9, 7.0, 6.6, 6.8, 6.0, 7.0, 6.3, 6.0, 5.7,
        4.8, 3.4, 4.3, 3.8, 4.2, 4.3, 4.7, 3.5, 5.4, 3.7,
        5.2, 3.6, 4.2, 4.7, 4.4, 3.1, 4.2, 3.9, 4.2, 3.6,
        4.7, 4.4, 4.5, 4.7, 5.0, 2.5, 4.0, 3.6, 3.9, 3.4,
        2.9, 1.8, 2.6]

# ---------------- Chesapeake ----------------
obs_cp = [8.4, 8.5, 8.7, 8.8, 9.0, 8.8, 8.7, 8.6,
          8.7, 8.5, 8.4, 8.3, 8.3, 8.2, 8.1, 8.3,
          8.9, 8.6, 8.6, 8.7, 8.5, 8.3, 8.2, 8.2,
          8.4, 8.4, 8.5, 8.9, 9.0, 9.0, 8.4, 8.3,
          8.2, 7.8, 7.3, 7.0, 6.8, 6.2, 6.2, 5.8,
          5.6, 5.5, 5.8, 5.6, 5.4, 5.7, 5.5, 5.9,
          5.3, 5.2, 5.1, 5.9, 5.4, 5.4, 5.3, 5.6,
          6.0, 5.6, 5.0, 4.2, 3.8, 3.0, 2.5, 2.7,
          2.4, 2.1, 2.1, 2.3, 2.2, 2.5, 2.6, 2.8,
          2.9, 2.7, 2.9, 2.8, 4.4, 3.5, 3.7, 4.3,
          4.1, 4.3, 3.9, 3.1, 2.9, 2.6, 2.7, 2.8,
          2.8, 2.8, 2.9, 3.0, 3.0, 3.1, 3.2, 3.3,
          3.3, 3.4, 3.4, 3.5, 3.7, 4.0, 4.1, 4.3,
          4.2, 4.5, 4.3, 4.2, 4.4, 4.2, 4.1, 4.7,
          4.2, 4.0, 3.8, 3.6, 3.7, 3.6, 3.7, 3.7,
          3.6, nan, nan, nan, 3.5]
f_cp = [10.1, 10.2, 10.3, 10.0, 9.5, 9.1, 8.9, 8.7, 8.6, 8.5,
        8.5, 8.4, 8.4, 8.2, 8.2, 8.0, 7.8, 7.0, 6.6, 6.1,
        5.9, 5.7, 5.8, 6.8, 5.6, 4.9, 5.3, 5.1, 5.2, 4.6,
        3.7, 3.0, 2.6, 2.5, 3.0, 2.8, 3.6, 2.6, 2.8, 2.8,
        2.9, 2.3, 2.6, 2.1, 2.3, 1.9, 2.0, 2.0, 2.2, 2.1,
        2.6, 2.3, 2.7, 2.9, 2.4, 2.5, 2.3, 3.0, 2.8, 2.0,
        1.7, 1.1, 1.9]
g_cp = [10.4, 10.5, 10.7, 10.4, 10.0, 9.6, 9.3, 9.1, 9.1, 8.9,
        8.9, 8.7, 8.7, 8.6, 8.5, 8.3, 8.1, 7.3, 6.8, 6.2,
        6.0, 5.8, 5.8, 5.6, 5.6, 5.0, 5.5, 5.2, 5.4, 4.8,
        3.8, 3.2, 2.8, 2.6, 3.2, 2.8, 2.9, 2.7, 3.0, 2.9,
        3.0, 2.5, 2.7, 2.3, 2.5, 2.0, 2.2, 2.1, 2.3, 2.2,
        2.6, 2.3, 2.8, 3.0, 2.5, 2.6, 2.4, 3.2, 2.9, 2.1,
        1.9, 1.2, 2.0]
h_cp = [10.0, 10.1, 10.3, 10.1, 9.6, 9.2, 9.0, 8.9, 8.8, 8.7,
        8.7, 8.5, 8.5, 8.3, 8.3, 8.1, 7.9, 7.1, 6.6, 6.1,
        5.8, 5.6, 5.7, 5.4, 5.5, 4.8, 5.3, 5.1, 5.2, 4.6,
        3.6, 3.0, 2.6, 2.5, 3.0, 2.7, 2.8, 2.6, 2.9, 2.8,
        2.9, 2.4, 2.6, 2.2, 2.4, 1.9, 2.1, 2.0, 2.2, 2.1,
        2.5, 2.2, 2.7, 2.9, 2.4, 2.5, 2.3, 3.1, 2.8, 2.0,
        1.8, 1.1, 1.9]

obs_all = [obs_yk, obs_lw, obs_dg, obs_wa, obs_so, obs_bg, obs_cb, obs_bm, obs_tc, obs_cp]
f_all = [f_yk, f_lw, f_dg, f_wa, f_so, f_bg, f_cb, f_bm, f_tc, f_cp]
g_all = [g_yk, g_lw, g_dg, g_wa, g_so, g_bg, g_cb, g_bm, g_tc, g_cp]
h_all = [h_yk, h_lw, h_dg, h_wa, h_so, h_bg, h_cb, h_bm, h_tc, h_cp]


def plot_station(ax, i):
    # 观测值用红点，三个模型用不同线型
    ax.plot(t_obs, obs_all[i], 'o', color='red', ms=3.9, mew=0, label='Obs', zorder=3)
    ax.plot(t_mod, f_all[i], '--', color='cyan', lw=0.7, label=run_names[0])
    ax.plot(t_mod, g_all[i], '-', color='green', lw=0.8, label=run_names[1])
    ax.plot(t_mod, h_all[i], '-.', color='blue', lw=0.7, alpha=0.85, label=run_names[2])

    ax.set_title(stations[i], fontsize=10)
    ax.set_ylabel('Temperature (°C)', fontsize=10)
    ax.set_xlim(t_mod[0], t_mod[-1])
    ax.set_ylim(*y_limits[i])
    ax.yaxis.set_major_locator(MultipleLocator(5))
    ax.set_xticks(tick_dates)
    ax.set_xticklabels(tick_labels)
    ax.tick_params(labelsize=10)
    ax.grid(True, alpha=0.3)
    ax.text(0.04, 0.912, 'sensor z=%.3f m (below datum), tz=GMT' % sensor_z[i],
            transform=ax.transAxes, fontsize=8, fontweight='bold', va='center')
    if i == 0:
        ax.legend(loc='upper right', fontsize=8, markerscale=0.65)


if __name__ == '__main__':
    fig, axes = plt.subplots(5, 2, figsize=(16, 20), dpi=250)
    fig.subplots_adjust(left=0.039, right=0.9895, top=0.983, bottom=0.063,
                        wspace=0.0897, hspace=0.182)

    for k, ax in enumerate(axes.flat):
        plot_station(ax, k)

    fig.text(0.5, 0.012, 'Time', ha='center', va='center', fontsize=11.5)
    fig.savefig('out.png', dpi=250)
